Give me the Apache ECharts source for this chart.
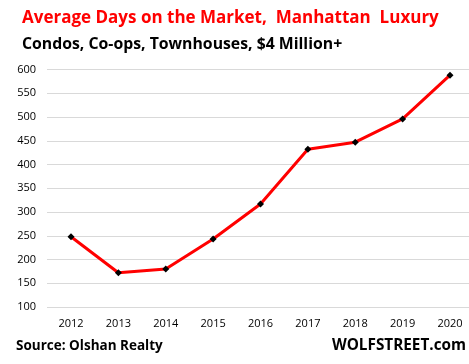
<!DOCTYPE html>
<html><head><meta charset="utf-8">
<script src="https://cdn.jsdelivr.net/npm/echarts@6/dist/echarts.min.js"></script>
<style>html,body{margin:0;padding:0;background:#fff}#c{width:469px;height:364px}</style>
</head><body><div id="c"></div>
<script>
const years = ['2012','2013','2014','2015','2016','2017','2018','2019','2020'];
const days = [248, 172, 180, 243, 317, 432, 447, 496, 588];
const yTicks = [100, 600, 50];

const chart = echarts.init(document.getElementById('c'), null, {renderer:'canvas'});
const yBase = {
  type:'value', min:yTicks[0], max:yTicks[1], interval:yTicks[2],
  axisLine:{show:false}, axisTick:{show:false}
};
chart.setOption({
  animation: false,
  backgroundColor: '#fff',
  graphic: [
    {type:'text', left:22, top:10, style:{text:'Average Days on the Market,  Manhattan  Luxury', fill:'#ff0000', font:'bold 17px "Open Sans", sans-serif'}},
    {type:'text', left:22, top:36, style:{text:'Condos, Co-ops, Townhouses, $4 Million+', fill:'#000', font:'bold 15.8px "Open Sans", sans-serif'}},
    {type:'text', left:16, top:339, style:{text:'Source: Olshan Realty', fill:'#000', font:'bold 13.5px "Open Sans", sans-serif'}},
    {type:'text', right:3, top:338, style:{text:'WOLFSTREET.com', fill:'#000', font:'bold 15.3px "Open Sans", sans-serif'}}
  ],
  grid: [
    {left:47, top:69.5, right:0, height:237.5, containLabel:false},
    {left:71, top:69.5, width:379, height:237.5, containLabel:false}
  ],
  xAxis: [
    {type:'category', gridIndex:0, data: years, show:false},
    {
      type:'category', gridIndex:1, data: years, boundaryGap:false,
      axisLine:{show:false}, axisTick:{show:false},
      axisLabel:{color:'#000', fontSize:11, fontFamily:'"Open Sans", sans-serif', margin:11}
    }
  ],
  yAxis: [
    Object.assign({gridIndex:0,
      axisLabel:{color:'#000', fontSize:11, fontFamily:'"Open Sans", sans-serif', margin:11},
      splitLine:{lineStyle:{color:'#d9d9d9', width:1}}}, yBase),
    Object.assign({gridIndex:1, show:false, splitLine:{show:false}}, yBase)
  ],
  series: [{
    type:'line', xAxisIndex:1, yAxisIndex:1, data: days,
    lineStyle:{color:'#ff0000', width:3},
    symbol:'diamond', symbolSize:7,
    itemStyle:{color:'#000'}
  }]
});
</script></body></html>
